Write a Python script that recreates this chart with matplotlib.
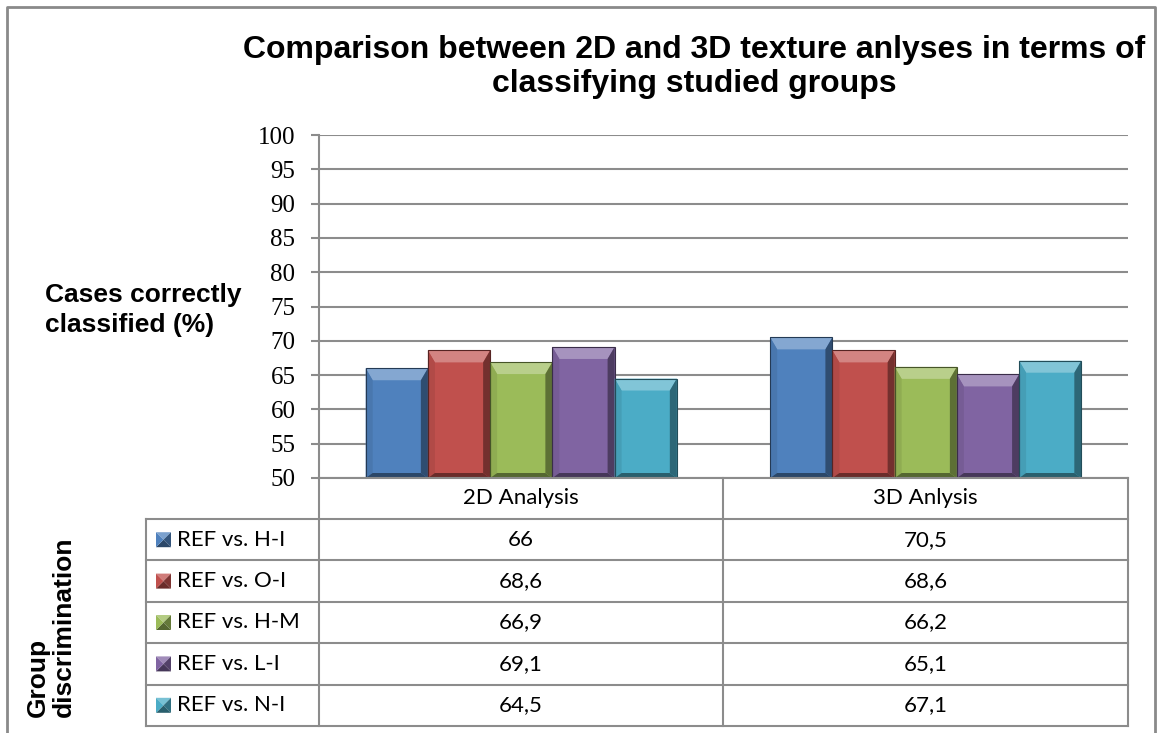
import matplotlib
matplotlib.use("Agg")
import matplotlib.pyplot as plt
import numpy as np
from matplotlib.patches import Polygon, Rectangle
from matplotlib.transforms import IdentityTransform
from matplotlib.colors import to_rgb

# values (% of cases correctly classified)
categories = ["2D Analysis", "3D Anlysis"]
series = ["REF vs. H-I", "REF vs. O-I", "REF vs. H-M", "REF vs. L-I", "REF vs. N-I"]
values_2d = [66, 68.6, 66.9, 69.1, 64.5]
values_3d = [70.5, 68.6, 66.2, 65.1, 67.1]
colors = ["#4f81bd", "#c0504d", "#9bbb59", "#8064a2", "#4bacc6"]
yticks = list(range(50, 101, 5))
y_base = 50

W, H = 1160, 733
fig = plt.figure(figsize=(W / 100, H / 100), dpi=100)

# pixel box of the plot area
px_left, px_right, px_top, px_bottom = 319, 1128, 135, 478
ax = fig.add_axes([px_left / W, 1 - px_bottom / H,
                   (px_right - px_left) / W, (px_bottom - px_top) / H])

grid_col = "#8c8c8c"
ax.set_xlim(-0.5, 1.5)
ax.set_ylim(y_base, 100)
ax.set_yticks(yticks)
ax.set_yticklabels([str(t) for t in yticks], fontsize=18, family="Liberation Serif")
ax.tick_params(axis="y", length=6, width=1.5, color=grid_col, pad=11)
ax.tick_params(axis="x", length=0, labelbottom=False)
ax.grid(axis="y", color=grid_col, lw=1.5)
ax.set_axisbelow(True)
for s in ["top", "right", "bottom"]:
    ax.spines[s].set_visible(False)
ax.spines["left"].set_color(grid_col)
ax.spines["left"].set_linewidth(1.5)

# bars: gap width 150% like the spreadsheet default
n = len(series)
bw = 1 / (n + 1.5)
x = np.arange(len(categories))
table_vals = np.array([values_2d, values_3d]).T
bars = []
for i in range(n):
    bc = ax.bar(x + (i - (n - 1) / 2) * bw, table_vals[i] - y_base, width=bw,
                bottom=y_base, color=colors[i], edgecolor="none", zorder=2)
    bars.append(bc)


def shade(c, f):
    r = np.array(to_rgb(c))
    if f >= 0:
        return tuple(r + (1 - r) * f)
    return tuple(r * (1 + f))


# bevelled edges drawn in pixel space on top of each bar
fig.canvas.draw()
for i, bc in enumerate(bars):
    for p in bc.patches:
        bb = p.get_window_extent()
        x0, y0, x1, y1 = bb.x0, bb.y0, bb.x1, bb.y1
        bs, bt, bb_ = 7, 12, 5
        faces = [
            ([(x0, y1), (x1, y1), (x1 - bs, y1 - bt), (x0 + bs, y1 - bt)], 0.3),
            ([(x0, y0), (x0, y1), (x0 + bs, y1 - bt), (x0 + bs, y0 + bb_)], -0.08),
            ([(x1, y0), (x1, y1), (x1 - bs, y1 - bt), (x1 - bs, y0 + bb_)], -0.4),
            ([(x0, y0), (x1, y0), (x1 - bs, y0 + bb_), (x0 + bs, y0 + bb_)], -0.45),
        ]
        for pts, f in faces:
            ax.add_patch(Polygon(pts, closed=True, transform=IdentityTransform(),
                                 facecolor=shade(colors[i], f), edgecolor="none",
                                 zorder=3))
        ax.add_patch(Rectangle((x0, y0), x1 - x0, y1 - y0, transform=IdentityTransform(),
                               facecolor="none", edgecolor=shade(colors[i], -0.55),
                               lw=0.8, zorder=4))

# overlay in pixel coordinates for the frame, table and labels
ov = fig.add_axes([0, 0, 1, 1], zorder=5)
ov.set_xlim(0, W)
ov.set_ylim(H, 0)
ov.axis("off")

ov.plot([7, 7, 1155, 1155], [H, 7, 7, H], color="#8a8a8a", lw=2)

ov.text(694, 67, "Comparison between 2D and 3D texture anlyses in terms of\nclassifying studied groups",
        ha="center", va="center", fontsize=23, fontweight="bold",
        family="Liberation Sans", linespacing=1.15)
ov.text(45, 310, "Cases correctly\nclassified (%)", ha="left", va="center",
        fontsize=19, fontweight="bold", family="Liberation Sans", linespacing=1.35)
ov.text(51, 717, "Group\ndiscrimination", rotation=90, ha="center", va="bottom",
        fontsize=19, fontweight="bold", family="Liberation Sans",
        multialignment="left", linespacing=1.1)

# data table under the plot
tab_left, col_mid = 146, 723
row_y = np.linspace(519, 726, n + 1)
lw = 1.5
ov.plot([px_left, px_right], [px_bottom, px_bottom], color=grid_col, lw=lw)
for y in row_y:
    ov.plot([tab_left, px_right], [y, y], color=grid_col, lw=lw)
ov.plot([tab_left, tab_left], [row_y[0], row_y[-1]], color=grid_col, lw=lw)
for xv in [px_left, col_mid, px_right]:
    ov.plot([xv, xv], [px_bottom, row_y[-1]], color=grid_col, lw=lw)

tfont = dict(family="Lato", fontsize=16)
col_cx = [(px_left + col_mid) / 2, (col_mid + px_right) / 2]
for j, cat in enumerate(categories):
    ov.text(col_cx[j], (px_bottom + row_y[0]) / 2, cat, ha="center", va="center", **tfont)


def fmt(v):
    return f"{v:g}".replace(".", ",")


for i in range(n):
    yc = (row_y[i] + row_y[i + 1]) / 2
    # bevelled legend key
    k0, k1 = 156, 171
    kc = ((k0 + k1) / 2, yc)
    corners = [(k0, yc - 7.5), (k1, yc - 7.5), (k1, yc + 7.5), (k0, yc + 7.5)]
    for t, f in enumerate([0.25, -0.35, -0.45, 0.0]):
        ov.add_patch(Polygon([corners[t], corners[(t + 1) % 4], kc], closed=True,
                             facecolor=shade(colors[i], f), edgecolor="none"))
    ov.text(177, yc, series[i], ha="left", va="center", **tfont)
    for j in range(len(categories)):
        ov.text(col_cx[j], yc, fmt(table_vals[i][j]), ha="center", va="center", **tfont)

fig.savefig("out.png", dpi=100)
